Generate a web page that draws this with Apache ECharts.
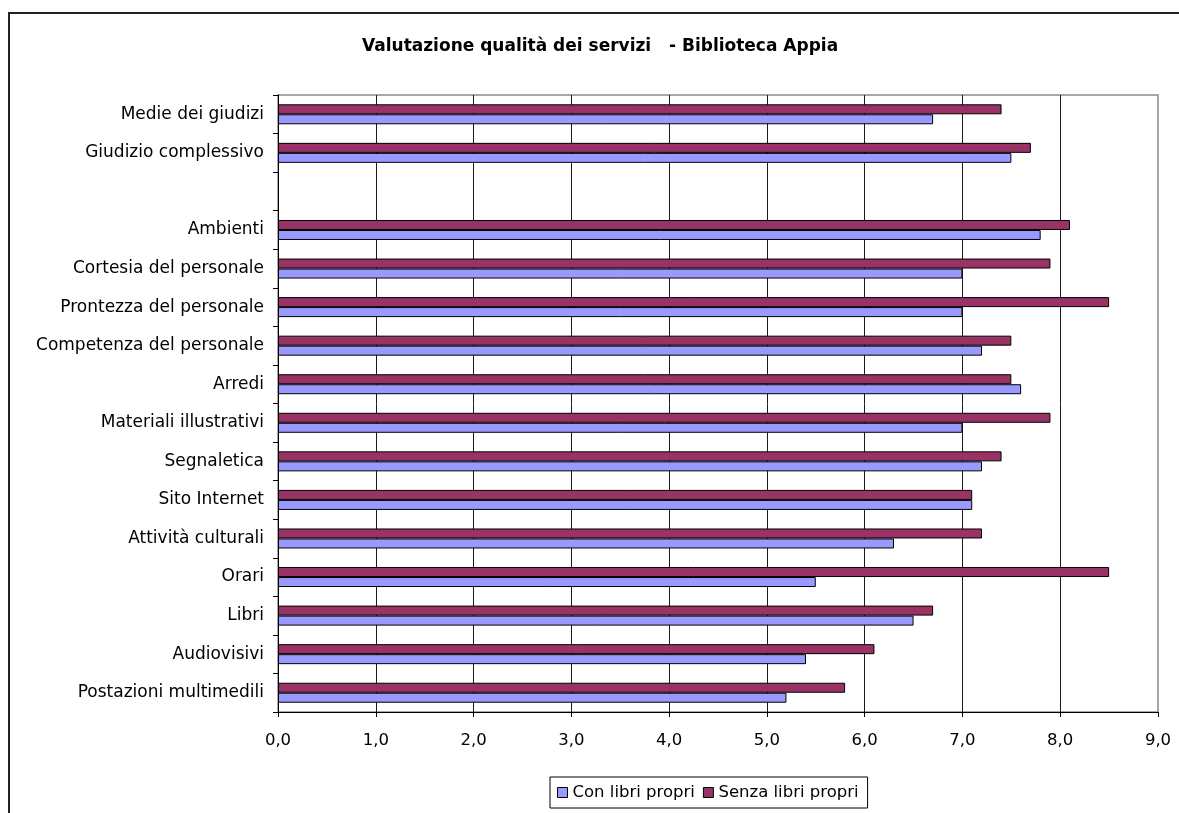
<!DOCTYPE html>
<html>
<head>
<meta charset="utf-8">
<script src="https://cdn.jsdelivr.net/npm/echarts@6/dist/echarts.min.js"></script>
<style>
  html, body { margin: 0; padding: 0; background: #fff; }
  #chart { width: 1179px; height: 813px; }
</style>
</head>
<body>
<div id="chart"></div>
<script>
// Rated services, listed top to bottom as they appear on the chart
const categories = [
  'Medie dei giudizi',
  'Giudizio complessivo',
  '',
  'Ambienti',
  'Cortesia del personale',
  'Prontezza del personale',
  'Competenza del personale',
  'Arredi',
  'Materiali illustrativi',
  'Segnaletica',
  'Sito Internet',
  'Attività culturali',
  'Orari',
  'Libri',
  'Audiovisivi',
  'Postazioni multimedili'
];

// Average score from users who bring their own books
const conLibri = [6.7, 7.5, null, 7.8, 7.0, 7.0, 7.2, 7.6, 7.0, 7.2, 7.1, 6.3, 5.5, 6.5, 5.4, 5.2];

// Average score from users without their own books
const senzaLibri = [7.4, 7.7, null, 8.1, 7.9, 8.5, 7.5, 7.5, 7.9, 7.4, 7.1, 7.2, 8.5, 6.7, 6.1, 5.8];

// Score axis labels (Italian decimal comma)
const xTickLabels = ['0,0', '1,0', '2,0', '3,0', '4,0', '5,0', '6,0', '7,0', '8,0', '9,0'];

const seriesNames = ['Con libri propri', 'Senza libri propri'];
const seriesColors = ['#9999FF', '#993366'];

// A category y axis runs bottom-up, so feed the lists in reverse order
const yData = categories.slice().reverse();
const conData = conLibri.slice().reverse();
const senzaData = senzaLibri.slice().reverse();

const labelFont = 'DejaVu Sans';

const chart = echarts.init(document.getElementById('chart'), null, { renderer: 'canvas' });

chart.setOption({
  animation: false,
  backgroundColor: '#ffffff',
  title: {
    text: 'Valutazione qualità dei servizi   - Biblioteca Appia',
    left: 362,
    top: 38,
    padding: 0,
    textStyle: {
      fontFamily: labelFont,
      fontWeight: 'bold',
      fontSize: 17,
      color: '#000'
    }
  },
  graphic: [{
    type: 'rect',
    silent: true,
    shape: { x: 9, y: 13, width: 1300, height: 1000 },
    style: { fill: 'none', stroke: '#222', lineWidth: 2 },
    z: -1
  }],
  legend: {
    data: seriesNames,
    left: 550,
    top: 777,
    orient: 'horizontal',
    icon: 'rect',
    itemWidth: 10,
    itemHeight: 10,
    itemGap: 8,
    padding: [7, 9, 7, 7],
    borderColor: '#000',
    borderWidth: 1,
    backgroundColor: '#fff',
    itemStyle: { borderColor: '#000', borderWidth: 1 },
    textStyle: {
      fontFamily: labelFont,
      fontSize: 16.5,
      color: '#000'
    }
  },
  grid: {
    left: 278,
    right: 21,
    top: 95,
    bottom: 101,
    show: true,
    borderColor: '#8c8c8c',
    borderWidth: 1.5,
    backgroundColor: 'transparent',
    containLabel: false
  },
  xAxis: {
    type: 'value',
    min: 0,
    max: 9,
    interval: 1,
    axisLine: { show: true, lineStyle: { color: '#000', width: 1 } },
    axisTick: { show: true, length: 5, inside: false, lineStyle: { color: '#000', width: 1 } },
    axisLabel: {
      show: true,
      margin: 20,
      fontFamily: labelFont,
      fontSize: 16.5,
      color: '#000',
      formatter: (value, index) => xTickLabels[index]
    },
    splitLine: {
      show: true,
      showMinLine: false,
      showMaxLine: false,
      lineStyle: { color: '#1a1a1a', width: 1 }
    }
  },
  yAxis: {
    type: 'category',
    data: yData,
    axisLine: { show: true, lineStyle: { color: '#000', width: 1 } },
    axisTick: { show: true, length: 5, inside: false, alignWithLabel: false, lineStyle: { color: '#000', width: 1 } },
    axisLabel: {
      show: true,
      interval: 0,
      margin: 14,
      fontFamily: labelFont,
      fontSize: 17,
      color: '#000'
    },
    splitLine: { show: false }
  },
  // The first bar series sits above the second within each row
  series: [
    {
      name: seriesNames[1],
      type: 'bar',
      data: senzaData,
      barWidth: 10,
      barGap: '0%',
      itemStyle: { color: seriesColors[1], borderColor: '#000', borderWidth: 1 }
    },
    {
      name: seriesNames[0],
      type: 'bar',
      data: conData,
      barWidth: 10,
      barGap: '0%',
      itemStyle: { color: seriesColors[0], borderColor: '#000', borderWidth: 1 }
    }
  ]
});
</script>
</body>
</html>
